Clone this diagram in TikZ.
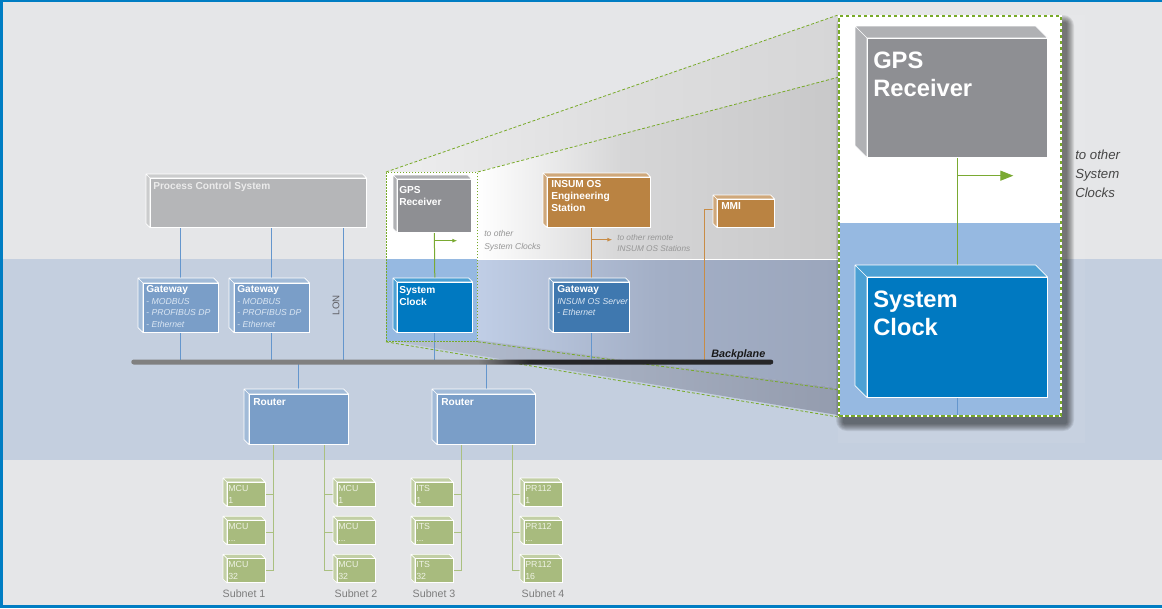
\documentclass[tikz,border=0pt]{standalone}
\usepackage{fontspec}
\setmainfont{Liberation Sans}
\usetikzlibrary{arrows.meta, positioning, calc}

\definecolor{bgcol}{RGB}{229,230,232}
\definecolor{bandcol}{RGB}{196,207,223}
\definecolor{framecol}{RGB}{0,125,195}
\definecolor{zoomblue}{RGB}{150,185,225}
\definecolor{pcsgray}{RGB}{181,182,184}
\definecolor{gwblue}{RGB}{122,158,200}
\definecolor{insgwblue}{RGB}{63,120,175}
\definecolor{gpsgray}{RGB}{142,143,147}
\definecolor{clockblue}{RGB}{0,121,193}
\definecolor{insorange}{RGB}{186,131,66}
\definecolor{leafgreen}{RGB}{168,187,126}
\definecolor{leaftext}{RGB}{238,242,228}
\definecolor{itemtext}{RGB}{218,230,243}
\definecolor{wireblue}{RGB}{100,150,205}
\definecolor{wireorange}{RGB}{200,140,70}
\definecolor{wiregreen}{RGB}{122,170,50}
\definecolor{netgreen}{RGB}{170,192,128}
\definecolor{dashgreen}{RGB}{120,170,40}
\definecolor{notegray}{RGB}{150,150,150}
\definecolor{notedark}{RGB}{70,70,70}
\definecolor{subgray}{RGB}{125,125,125}
\definecolor{lontext}{RGB}{95,95,100}
\definecolor{bptext}{RGB}{25,25,25}
% shading colours of the zoom funnel
\definecolor{topA}{RGB}{238,238,239}
\definecolor{topB}{RGB}{222,222,223}
\definecolor{topC}{RGB}{214,214,215}
\definecolor{upB}{RGB}{214,214,215}
\definecolor{upC}{RGB}{200,200,201}
\definecolor{lowA}{RGB}{192,206,230}
\definecolor{lowB}{RGB}{163,175,198}
\definecolor{lowC}{RGB}{155,166,188}
\definecolor{botA}{RGB}{182,192,210}
\definecolor{botC}{RGB}{148,156,174}
\definecolor{bpgray}{RGB}{128,128,128}
\definecolor{bpdark}{RGB}{38,38,40}

\pgfdeclarehorizontalshading{topfade}{100bp}{color(0bp)=(topA); color(25bp)=(topA); color(50bp)=(topB); color(75bp)=(topC); color(100bp)=(topC)}
\pgfdeclarehorizontalshading{upperfade}{100bp}{color(0bp)=(white); color(25bp)=(white); color(45bp)=(upB); color(75bp)=(upC); color(100bp)=(upC)}
\pgfdeclarehorizontalshading{lowerfade}{100bp}{color(0bp)=(lowA); color(25bp)=(lowA); color(50bp)=(lowB); color(75bp)=(lowC); color(100bp)=(lowC)}
\pgfdeclarehorizontalshading{bottomfade}{100bp}{color(0bp)=(botA); color(25bp)=(botA); color(75bp)=(botC); color(100bp)=(botC)}
\pgfdeclarehorizontalshading{bpfade}{100bp}{color(0bp)=(bpgray); color(52bp)=(bpgray); color(56bp)=(bpdark); color(100bp)=(bpdark)}

\newlength\unitpx
\setlength\unitpx{0.75pt}

\pgfdeclarelayer{back}
\pgfdeclarelayer{wires}
\pgfsetlayers{back,wires,main}

\begin{document}
\begin{tikzpicture}[x=0.75pt, y=-0.75pt,
        cube/.style args={#1/#2}{
            anchor=north west, fill=#1, draw=white, line width=0.5pt, inner sep=0pt,
            append after command={\pgfextra{%
                \fill[#1!70!white, draw=white, line width=0.5pt, line join=round]
                    (\tikzlastnode.north west) -- ++(-#2,-#2)
                    -- ([shift={(-#2,-#2)}]\tikzlastnode.north east)
                    -- (\tikzlastnode.north east) -- cycle
                    (\tikzlastnode.north west) -- ++(-#2,-#2)
                    -- ([shift={(-#2,-#2)}]\tikzlastnode.south west)
                    -- (\tikzlastnode.south west) -- cycle;}}
        },
        leaf/.style={
            cube=leafgreen/4,
            minimum width=37.5\unitpx,
            minimum height=24\unitpx,
            text width=35.5\unitpx,
            inner xsep=1\unitpx,
            align=left,
            text=leaftext,
            font=\fontsize{6.6}{8.7}\selectfont
        },
        boxtitle/.style={anchor=north west, inner sep=0pt, align=left, text=white,
            font=\fontsize{7.6}{8.8}\selectfont\bfseries},
        bigtitle/.style={anchor=north west, inner sep=0pt, align=left, text=white,
            font=\fontsize{17.8}{21}\selectfont\bfseries},
        gwtext/.style={anchor=north west, inner sep=0pt, align=left, text=itemtext,
            font=\fontsize{6.5}{8.6}\selectfont},
        notetext/.style={anchor=north west, inner sep=0pt, align=left, text=notegray,
            font=\fontsize{6.4}{9.4}\selectfont\itshape},
        subnet/.style={inner sep=0pt, text=subgray, font=\fontsize{8}{9}\selectfont},
        wire/.style={draw=wireblue, line width=1\unitpx},
        gpswire/.style={draw=wiregreen, line width=1\unitpx},
        inswire/.style={draw=wireorange, line width=1\unitpx},
        netwire/.style={draw=netgreen, line width=1.3\unitpx},
        zoomframe/.style={anchor=north west, inner sep=0pt, draw=dashgreen,
            line width=0.8\unitpx, dash pattern=on 1.5\unitpx off 1.5\unitpx},
        zoomline/.style={draw=dashgreen, line width=0.8\unitpx,
            dash pattern=on 3\unitpx off 2\unitpx},
        bpbar/.style={anchor=west, inner sep=0pt, shade, shading=bpfade,
            rounded corners=2.5\unitpx}
    ]
    \useasboundingbox (0,0) rectangle (1162,608);

    % background, bands and zoom funnel
    \begin{pgfonlayer}{back}
        \fill[bgcol] (0,0) rectangle (1162,608);
        \fill[bandcol] (0,259) rectangle (1162,460);
        \fill[white, opacity=0.06] (838,15) rectangle (1085,443);
        \shade[shading=topfade] (386,172) -- (838,15) -- (838,77) -- (477,172) -- cycle;
        \shade[shading=upperfade] (477,172) -- (838,77) -- (838,259) -- (477,259) -- cycle;
        \shade[shading=lowerfade] (477,259) -- (838,259) -- (838,388) -- (477,340) -- cycle;
        \shade[shading=bottomfade] (386,340) -- (477,340) -- (838,388) -- (838,415) -- cycle;
        \draw[white, line width=1\unitpx] (477,259) -- (838,259);
        \fill[white] (386,172) rectangle (477,259);
        \fill[zoomblue] (386,259) rectangle (477,341);
        \foreach \k in {1,...,8} {
            \fill[black, opacity=0.08, rounded corners=\k] (844-\k,23-\k) rectangle (1066+\k,423+\k);
        }
        \fill[white] (838,15) rectangle (1060,223);
        \fill[zoomblue] (838,223) rectangle (1060,415);
    \end{pgfonlayer}

    % zoom frames
    \node[zoomframe, minimum width=91\unitpx, minimum height=169\unitpx] (zoomS) at (386,172) {};
    \node[zoomframe, line width=2\unitpx, dash pattern=on 3.5\unitpx off 2.5\unitpx,
        preaction={draw=white, solid}, minimum width=222\unitpx, minimum height=400\unitpx] (zoomB) at (838,15) {};
    \draw[zoomline] (zoomS.north west) -- (zoomB.north west);
    \draw[zoomline] (zoomS.north east) -- ($(zoomB.north west)!0.155!(zoomB.south west)$);
    \draw[zoomline] (zoomS.south east) -- ($(zoomB.north west)!0.9325!(zoomB.south west)$);
    \draw[zoomline] (zoomS.south west) -- (zoomB.south west);

    % control level
    \node[cube=pcsgray/4, minimum width=216\unitpx, minimum height=49\unitpx] (pcs) at (150,178) {};
    \node[boxtitle, text=white!92!black] (pcsT) at (153,181.5) {Process Control System};
    \node[cube=gwblue/5, minimum width=75\unitpx, minimum height=49\unitpx] (gwA) at (143,283) {};
    \node[cube=gwblue/5, minimum width=75\unitpx, minimum height=49\unitpx] (gwB) at (234,283) {};
    \node[gwtext] (gwAT) at (146,285.6) {{\color{white}\bfseries\fontsize{7.6}{8.6}\selectfont Gateway}\\- \textit{MODBUS}\\- \textit{PROFIBUS DP}\\- \textit{Ethernet}};
    \node[gwtext] (gwBT) at (237,285.6) {{\color{white}\bfseries\fontsize{7.6}{8.6}\selectfont Gateway}\\- \textit{MODBUS}\\- \textit{PROFIBUS DP}\\- \textit{Ethernet}};
    \node[rotate=90, inner sep=0pt, text=lontext, font=\fontsize{7.3}{8}\selectfont] (lon) at (336,305) {LON};

    % small system clock
    \node[cube=gpsgray/4, minimum width=74\unitpx, minimum height=53\unitpx] (gpsS) at (397,179) {};
    \node[boxtitle] (gpsST) at (399,186.6) {GPS\\Receiver};
    \node[cube=clockblue/4, minimum width=75\unitpx, minimum height=50\unitpx] (sysS) at (397,282) {};
    \node[boxtitle] (sysST) at (399,286) {System\\Clock};
    \node[notetext] (toS) at (484,230.5) {to other\\System Clocks};

    % INSUM
    \node[cube=insorange/4, minimum width=103\unitpx, minimum height=50\unitpx] (insE) at (547,177) {};
    \node[boxtitle] (insET) at (551,180.6) {INSUM OS\\Engineering\\Station};
    \node[cube=insgwblue/4, minimum width=76\unitpx, minimum height=50\unitpx] (gwI) at (553,282) {};
    \node[gwtext] (gwIT) at (557,285.6) {{\color{white}\bfseries\fontsize{7.6}{8.6}\selectfont Gateway}\\\textit{INSUM OS Server}\\- \textit{Ethernet}};
    \node[notetext, font=\fontsize{6.2}{8.8}\selectfont\itshape] (toI) at (617,233.8) {to other remote\\INSUM OS Stations};
    \node[cube=insorange/4, minimum width=57\unitpx, minimum height=28\unitpx] (mmi) at (717,199) {};
    \node[boxtitle] (mmiT) at (721,202.6) {MMI};

    % backplane
    \node[bpbar, minimum width=642\unitpx, minimum height=5\unitpx] (bp) at (131,362) {};
    \node[anchor=base east, inner sep=0pt, text=bptext, font=\fontsize{8.1}{9}\selectfont\bfseries\itshape]
        (bpT) at ([xshift=-8\unitpx, yshift=5\unitpx]bp.east) {Backplane};

    % routers and subnets
    \node[cube=gwblue/5, minimum width=99\unitpx, minimum height=50\unitpx] (rtA) at (249,394) {};
    \node[boxtitle] (rtAT) at (253,398.3) {Router};
    \node[cube=gwblue/5, minimum width=98\unitpx, minimum height=50\unitpx] (rtB) at (437,394) {};
    \node[boxtitle] (rtBT) at (441,398.3) {Router};

    \node[leaf] (mcuA1) at (227,482) {MCU\\1};
    \node[leaf, below=13.5\unitpx of mcuA1] (mcuA2) {MCU\\...};
    \node[leaf, below=13.5\unitpx of mcuA2] (mcuA3) {MCU\\32};
    \node[leaf] (mcuB1) at (337,482) {MCU\\1};
    \node[leaf, below=13.5\unitpx of mcuB1] (mcuB2) {MCU\\...};
    \node[leaf, below=13.5\unitpx of mcuB2] (mcuB3) {MCU\\32};
    \node[leaf] (itsC1) at (415,482) {ITS\\1};
    \node[leaf, below=13.5\unitpx of itsC1] (itsC2) {ITS\\...};
    \node[leaf, below=13.5\unitpx of itsC2] (itsC3) {ITS\\32};
    \node[leaf] (prD1) at (524,482) {PR112\\1};
    \node[leaf, below=13.5\unitpx of prD1] (prD2) {PR112\\...};
    \node[leaf, below=13.5\unitpx of prD2] (prD3) {PR112\\16};

    \node[subnet, below=6\unitpx of mcuA3, xshift=-2\unitpx] (subA) {Subnet 1};
    \node[subnet, below=6\unitpx of mcuB3] (subB) {Subnet 2};
    \node[subnet, below=6\unitpx of itsC3] (subC) {Subnet 3};
    \node[subnet, below=6\unitpx of prD3] (subD) {Subnet 4};

    % zoomed system clock
    \node[cube=gpsgray/12, minimum width=180\unitpx, minimum height=119\unitpx] (gpsB) at (867,38) {};
    \node[bigtitle] (gpsBT) at (873,51.5) {GPS\\Receiver};
    \node[cube=clockblue/12, minimum width=180\unitpx, minimum height=120\unitpx] (sysB) at (867,277) {};
    \node[bigtitle] (sysBT) at (873,290.5) {System\\Clock};
    \node[notetext, text=notedark, font=\fontsize{9.9}{14.2}\selectfont\itshape] (toB) at (1075,150) {to other\\System\\Clocks};

    % connectors
    \begin{pgfonlayer}{wires}
        \coordinate (lonTop) at ([xshift=85\unitpx]pcs.south);
        \coordinate (gpsSsplit) at ([yshift=-8\unitpx]gpsS.south);
        \coordinate (gpsSout) at ([xshift=23\unitpx]gpsSsplit);
        \coordinate (gpsBsplit) at ([yshift=-18\unitpx]gpsB.south);
        \coordinate (gpsBout) at ([xshift=56\unitpx]gpsBsplit);
        \coordinate (insDrop) at (insE.south -| gwI.north);
        \coordinate (insSplit) at ([yshift=-12\unitpx]insDrop);
        \coordinate (insOut) at ([xshift=21\unitpx]insSplit);
        \coordinate (mmiJoin) at ([yshift=4\unitpx]mmi.west);
        \coordinate (mmiDrop) at ([xshift=-13\unitpx]mmiJoin);
        \coordinate (rtAl) at ([xshift=-25\unitpx]rtA.south);
        \coordinate (rtAr) at ([xshift=25.5\unitpx]rtA.south);
        \coordinate (rtBl) at ([xshift=-24.5\unitpx]rtB.south);
        \coordinate (rtBr) at ([xshift=26\unitpx]rtB.south);

        \draw[wire] (gwA.north |- pcs.south) -- (gwA.north);
        \draw[wire] (gwB.north |- pcs.south) -- (gwB.north);
        \draw[wire] (gwA.south) -- (gwA.south |- bp);
        \draw[wire] (gwB.south) -- (gwB.south |- bp);
        \draw[wire] (lonTop) -- (lonTop |- bp);
        \draw[wire] (sysS.south) -- (sysS.south |- bp);
        \draw[wire] (gwI.south) -- (gwI.south |- bp);
        \draw[wire] (rtA.north |- bp) -- (rtA.north);
        \draw[wire] (rtB.north |- bp) -- (rtB.north);
        \draw[wire] (sysB.south) -- (sysB.south |- zoomB.south);

        \draw[gpswire] (gpsS.south) -- (sysS.north);
        \draw[gpswire, -{Latex[length=3.75pt, width=3pt]}] (gpsSsplit) -- (gpsSout);
        \draw[gpswire] (gpsB.south) -- (sysB.north);
        \draw[gpswire, -{Triangle[length=9.75pt, width=7.5pt]}] (gpsBsplit) -- (gpsBout);

        \draw[inswire] (insDrop) -- (gwI.north);
        \draw[inswire, -{Latex[length=3.75pt, width=3pt]}] (insSplit) -- (insOut);
        \draw[inswire] (mmiJoin) -- (mmiDrop) -- (mmiDrop |- bp);

        \draw[netwire] (rtAl) |- (mcuA3.east);
        \draw[netwire] (rtAr) |- (mcuB3.west);
        \draw[netwire] (rtBl) |- (itsC3.east);
        \draw[netwire] (rtBr) |- (prD3.west);
        \foreach \n in {1,2} {
            \draw[netwire] (mcuA\n.east) -- (mcuA\n.east -| rtAl);
            \draw[netwire] (mcuB\n.west) -- (mcuB\n.west -| rtAr);
            \draw[netwire] (itsC\n.east) -- (itsC\n.east -| rtBl);
            \draw[netwire] (prD\n.west) -- (prD\n.west -| rtBr);
        }
    \end{pgfonlayer}

    % outer frame
    \fill[framecol] (0,0) rectangle (3,608);
    \fill[framecol] (0,0) rectangle (1162,1.5);
    \fill[framecol] (0,604.5) rectangle (1162,608);
\end{tikzpicture}
\end{document}
